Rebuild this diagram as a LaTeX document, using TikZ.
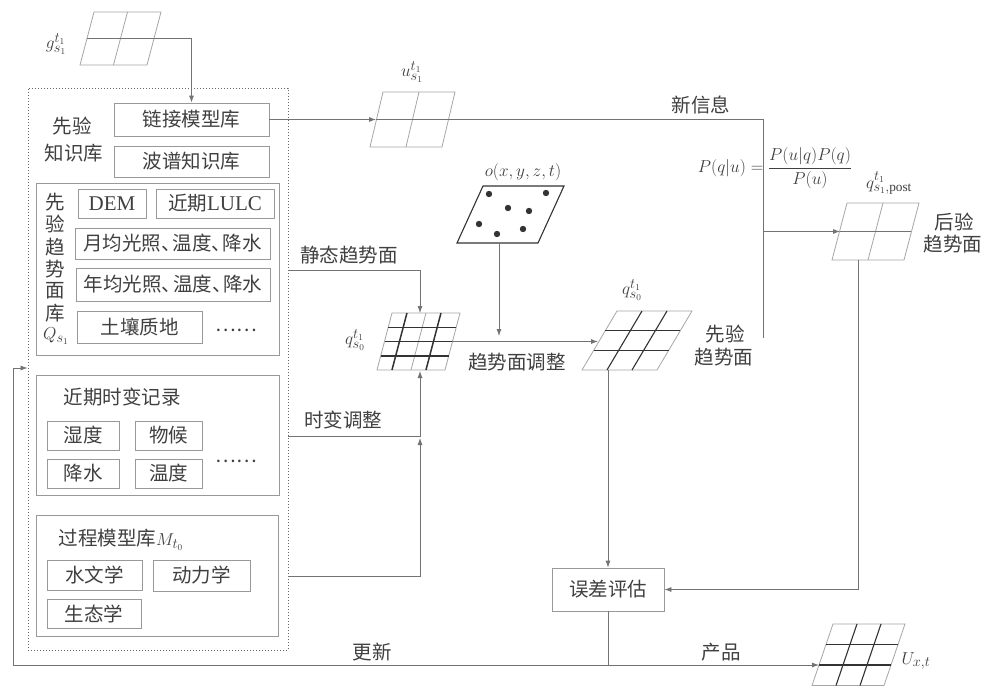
\documentclass[tikz,border=0pt]{standalone}
\usepackage{fontspec}
\setmainfont{Liberation Serif}
\newfontfamily\cjk{Noto Sans CJK SC}
\usetikzlibrary{arrows.meta}
% parallelogram grid helpers: x0, y0 (bottom-left), w, h, skew
\newcommand\pgOut[6]{\draw[#6] (#1,#2) -- ++(#3,0) -- ++(#5,-#4) -- ++(-#3,0) -- cycle;}
\newcommand\pgH[7]{\draw[#7] ({#1+#6*#5},{#2-#6*#4}) -- ++(#3,0);}
\newcommand\pgV[7]{\draw[#7] ({#1+#6*#3},#2) -- ++(#5,-#4);}
\newcommand\dun{、\kern-0.42em}
\begin{document}
\begin{tikzpicture}[x=1pt,y=-1pt,
  txt/.style={inner sep=0pt, text=black!75, font=\cjk\fontsize{19.5}{23}\selectfont},
  mtxt/.style={inner sep=0pt, text=black!75, font=\fontsize{19}{23}\selectfont},
  box/.style={draw=black!40, line width=0.8pt, inner sep=0pt, text=black!75, font=\cjk\fontsize{19.5}{23}\selectfont},
  grp/.style={draw=black!40, line width=0.9pt, inner sep=0pt},
  conn/.style={draw=black!55, line width=0.8pt},
  arr/.style={conn, -{Latex[length=7pt,width=5pt]}},
  thin/.style={draw=black!35, line width=0.8pt},
  thick/.style={draw=black!80, line width=1.5pt},
  dark/.style={draw=black!80, line width=1.1pt}]
\fill[white] (0,0) rectangle (986,688);
\useasboundingbox (0,0) rectangle (986,688);

% ---------- knowledge base (left) ----------
\node[draw=black!60, dotted, line width=1pt, minimum width=260, minimum height=562, inner sep=0pt] (kb) at (158,369) {};
\node[txt] (lkb1) at (72,126) {先验};
\node[txt] (lkb2) at (74,153) {知识库};
\node[box, minimum width=155, minimum height=33] (lk) at (191.5,119.5) {链接模型库};
\node[box, minimum width=155, minimum height=31] (bp) at (191.5,161.5) {波谱知识库};

\node[grp, minimum width=243, minimum height=172] (gQ) at (157.5,269) {};
\foreach \c [count=\i] in {先,验,趋,势,面,库}
  \node[txt] (vq\i) at (55,{202+22.3*(\i-1)}) {\c};
\node[mtxt] (vqQ) at (56,336) {$Q_{s_1}$};
\node[box, minimum width=68, minimum height=29] (dem) at (112,203.5) {\rmfamily\fontsize{21}{24}\selectfont DEM};
\node[box, minimum width=118, minimum height=29] (lulc) at (215,203.5) {近期{\rmfamily\fontsize{21}{24}\selectfont LULC}};
\node[box, minimum width=195, minimum height=31] (mon) at (172.5,243.5) {月均光照\dun 温度\dun 降水};
\node[box, minimum width=194, minimum height=33] (yr) at (173,284.5) {年均光照\dun 温度\dun 降水};
\node[box, minimum width=125, minimum height=32] (soil) at (139.5,327) {土壤质地};
\node[txt] (dots1) at (236,330) {……};

\node[grp, minimum width=243, minimum height=120] (gT) at (157.5,435) {};
\node[txt] (ltv2) at (122,397) {近期时变记录};
\node[box, minimum width=72, minimum height=29] (hum) at (83,435.5) {湿度};
\node[box, minimum width=67, minimum height=29] (phen) at (168.5,435.5) {物候};
\node[box, minimum width=72, minimum height=29] (prec) at (83,473.5) {降水};
\node[box, minimum width=67, minimum height=29] (temp) at (168.5,473.5) {温度};
\node[txt] (dots2) at (236,461) {……};

\node[grp, minimum width=242, minimum height=121] (gM) at (157,575.5) {};
\node[txt] (lmod) at (121,540) {过程模型库{\fontsize{19}{23}\selectfont$M_{t_0}$}};
\node[box, minimum width=95, minimum height=30] (hyd) at (94.5,575) {水文学};
\node[box, minimum width=97, minimum height=31] (dyn) at (201.5,575.5) {动力学};
\node[box, minimum width=94, minimum height=29] (eco) at (94,613.5) {生态学};

% ---------- grids ----------
% g grid
\pgOut{80}{65}{67}{53}{14}{thin}
\pgV{80}{65}{67}{53}{14}{0.5}{thin}
\coordinate (gL) at (87,38.5);
\node[mtxt] (lg) at (56,44) {$g^{t_1}_{s_1}$};
% u grid
\pgOut{370}{147}{72}{55}{13}{thin}
\pgV{370}{147}{72}{55}{13}{0.5}{thin}
\coordinate (uin) at (376,119.5);
\node[mtxt] (lu) at (412,72) {$u^{t_1}_{s_1}$};
% posterior grid
\pgOut{832}{260}{72}{57}{15}{thin}
\pgV{832}{260}{72}{57}{15}{0.5}{thin}
\pgH{832}{260}{72}{57}{15}{0.5}{thin}
\coordinate (postin) at (840,231.5);
\coordinate (postbot) at (858,260);
\node[mtxt] (lqp) at (889,183) {$q^{t_1}_{s_1,\mathrm{post}}$};
\node[txt] (lpost1) at (954,222) {后验};
\node[txt] (lpost2) at (953,244) {趋势面};
% o grid
\pgOut{457}{243}{81}{57}{26}{dark}
\foreach \px/\py [count=\k] in {489/194,546/193,508/208,529/211,479/224,523/229,497/234}
  \fill[black!80] (\px,\py) circle (3.2);
\coordinate (obot) at (499,243);
\node[mtxt] (lo) at (523,172) {$o(x,y,z,t)$};
% q1 grid
\pgOut{377}{370}{68}{57}{15}{thin}
\pgV{377}{370}{68}{57}{15}{0.5}{thin}
\foreach \f in {0.25,0.5,0.75} {\pgH{377}{370}{68}{57}{15}{\f}{thick}}
\foreach \f in {0.22,0.72} {\pgV{377}{370}{68}{57}{15}{\f}{thick}}
\coordinate (qonetop) at (420,313);
\coordinate (qonebot) at (420,371);
\coordinate (qoneR) at (452,341.5);
\node[mtxt] (lq1) at (355,340) {$q^{t_1}_{s_0}$};
% q2 grid
\pgOut{582}{370}{75}{59}{35}{thin}
\foreach \f in {0.3333,0.6667} {\pgH{582}{370}{75}{59}{35}{\f}{dark}\pgV{582}{370}{75}{59}{35}{\f}{dark}}
\coordinate (qtwoin) at (598,341.5);
\coordinate (qtwobot) at (608,370);
\node[mtxt] (lq2) at (632,290) {$q^{t_1}_{s_0}$};
\node[txt] (lprior1) at (725,334) {先验};
\node[txt] (lprior2) at (724,357) {趋势面};
% U grid
\pgOut{812}{685.5}{72}{61.5}{21}{thin}
\foreach \f in {0.3333,0.6667} {\pgH{812}{685.5}{72}{61.5}{21}{\f}{thick}\pgV{812}{685.5}{72}{61.5}{21}{\f}{dark}}
\coordinate (Uin) at (819,665);
\node[mtxt] (lU) at (916,661) {$U_{x,t}$};

% ---------- error node ----------
\node[box, minimum width=112, minimum height=43] (err) at (608,589.5) {误差评估};

% ---------- labels ----------
\node[txt] (lnew) at (701,105) {新信息};
\node[txt] (lstat) at (349,255) {静态趋势面};
\node[txt] (ltv) at (343,420) {时变调整};
\node[txt] (ladj) at (517,362) {趋势面调整};
\node[txt] (lupd) at (372,652) {更新};
\node[txt] (lprod) at (721,652) {产品};
\node[mtxt, font=\fontsize{18}{22}\selectfont] (lbayes) at (775,168) {$P(q|u)=\displaystyle\frac{P(u|q)P(q)}{P(u)}$};

% ---------- connectors ----------
\coordinate (btop) at (763,119.5);
\coordinate (bmid) at (763,231.5);
\coordinate (bbot) at (763,338);
\coordinate (statL) at (288,270);
\coordinate (tvL) at (288,436);
\coordinate (tvJ) at (420,436);
\coordinate (mdL) at (288,576);
\coordinate (mdJ) at (420,438);
\coordinate (botJ) at (608,665);
\coordinate (fbL) at (13,665);
\coordinate (fbT) at (13,368);

\draw[arr] (gL) -| (lk.north);
\draw[arr] (lk.east) -- (uin);
\draw[conn] (uin) -- (btop) -- (bbot);
\draw[arr] (bmid) -- (postin);
\draw[conn] (postin) -- ++(71,0);
\draw[arr] (statL) -| (qonetop);
\draw[arr] (tvL) -- (tvJ) -- (qonebot);
\draw[arr] (mdL) -| (mdJ);
\draw[arr] (obot) -- ++(0,93);
\draw[arr] (qoneR) -- (qtwoin);
\draw[arr] (qtwobot) -- (err.north);
\draw[arr] (postbot) |- (err.east);
\draw[conn] (err.south) -- (botJ);
\draw[arr] (botJ) -- (Uin);
\draw[arr] (botJ) -- (fbL) -- (fbT) -- (fbT -| kb.west);
\end{tikzpicture}
\end{document}
